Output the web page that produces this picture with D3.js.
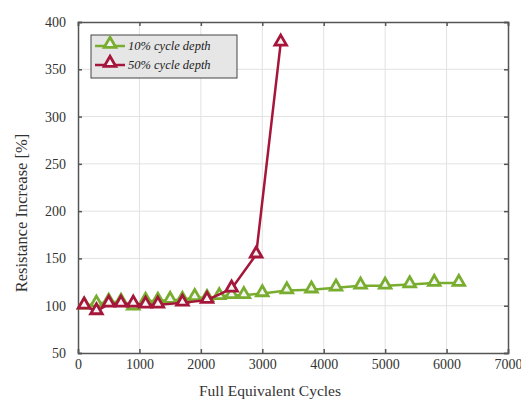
<!DOCTYPE html>
<html>
<head>
<meta charset="utf-8">
<script src="https://cdn.jsdelivr.net/npm/d3@7"></script>
<style>
  body { margin: 0; background: #fff; }
  svg text { font-family: 'Liberation Serif'; }
</style>
</head>
<body>
<script>
// data
var cycles10 = [100, 300, 500, 700, 900, 1100, 1300, 1500, 1700, 1900, 2100, 2300, 2500, 2700, 3000, 3400, 3800, 4200, 4600, 5000, 5400, 5800, 6200];
var resist10 = [100, 102, 104, 104, 99, 105, 105, 106, 106, 109, 108, 110, 111, 111, 113, 116, 117, 119, 121, 121, 122.5, 124, 124];
var cycles50 = [100, 300, 500, 700, 900, 1100, 1300, 1700, 2100, 2500, 2900, 3300];
var resist50 = [100, 94, 102, 102, 102, 101, 101, 103, 106, 118, 154, 378];
var xTicks = [0, 1000, 2000, 3000, 4000, 5000, 6000, 7000];
var yTicks = [50, 100, 150, 200, 250, 300, 350, 400];
var seriesNames = ["10% cycle depth", "50% cycle depth"];
var seriesColors = ["#78ad2f", "#a5163a"];

var W = 521, H = 400;
var m = {left: 78, right: 13, top: 22, bottom: 47};

var svg = d3.select("body").append("svg")
  .attr("width", W).attr("height", H)
  .attr("font-family", "Liberation Serif");

var x = d3.scaleLinear().domain([0, 7000]).range([m.left, W - m.right]);
var y = d3.scaleLinear().domain([50, 400]).range([H - m.bottom, m.top]);

// grid
svg.append("g").selectAll("line")
  .data(xTicks.slice(1, -1))
  .enter().append("line")
  .attr("x1", d => x(d)).attr("x2", d => x(d))
  .attr("y1", y(50)).attr("y2", y(400))
  .style("stroke", "#e2e2e2").style("stroke-width", 1);
svg.append("g").selectAll("line")
  .data(yTicks.slice(1, -1))
  .enter().append("line")
  .attr("y1", d => y(d)).attr("y2", d => y(d))
  .attr("x1", x(0)).attr("x2", x(7000))
  .style("stroke", "#e2e2e2").style("stroke-width", 1);

// axes (ticks pointing inward)
var xAxis = svg.append("g").attr("transform", "translate(0," + y(50) + ")")
  .call(d3.axisBottom(x).tickValues(xTicks).tickSize(-4).tickPadding(6).tickFormat(d3.format("d")));
var xTop = svg.append("g").attr("transform", "translate(0," + y(400) + ")")
  .call(d3.axisTop(x).tickValues(xTicks).tickSize(-4).tickFormat(""));
var yAxis = svg.append("g").attr("transform", "translate(" + x(0) + ",0)")
  .call(d3.axisLeft(y).tickValues(yTicks).tickSize(-4).tickPadding(12));
var yRight = svg.append("g").attr("transform", "translate(" + x(7000) + ",0)")
  .call(d3.axisRight(y).tickValues(yTicks).tickSize(-4).tickFormat(""));

[xAxis, xTop, yAxis, yRight].forEach(function(g) {
  g.attr("font-family", "Liberation Serif").attr("font-size", 14);
  g.select(".domain").style("stroke", "#555").style("stroke-width", 1.5);
  g.selectAll(".tick line").style("stroke", "#555").style("stroke-width", 1.5);
  g.selectAll("text").attr("font-family", "Liberation Serif").attr("fill", "#333");
});

// axis titles
svg.append("text")
  .attr("x", 270).attr("y", 396)
  .attr("text-anchor", "middle")
  .attr("font-family", "Liberation Serif")
  .attr("font-size", 15.5).attr("fill", "#333")
  .text("Full Equivalent Cycles");
svg.append("text")
  .attr("transform", "translate(27,213) rotate(-90)")
  .attr("text-anchor", "middle")
  .attr("font-family", "Liberation Serif")
  .attr("font-size", 16.5).attr("fill", "#333")
  .text("Resistance Increase [%]");

var tri = d3.symbol().type(d3.symbolTriangle).size(58);

function drawSeries(xs, ys, color) {
  var pts = xs.map((d, i) => [d, ys[i]]);
  var line = d3.line().x(d => x(d[0])).y(d => y(d[1]));
  svg.append("path")
    .datum(pts)
    .attr("d", line)
    .attr("fill", "none")
    .style("stroke", color)
    .style("stroke-width", 2.5);
  svg.append("g").selectAll("path")
    .data(pts)
    .enter().append("path")
    .attr("d", tri)
    .attr("transform", d => "translate(" + x(d[0]) + "," + (y(d[1]) - 1) + ")")
    .attr("fill", "#f4f4f4")
    .style("stroke", color)
    .style("stroke-width", 2.8);
}

drawSeries(cycles10, resist10, seriesColors[0]);
drawSeries(cycles50, resist50, seriesColors[1]);

// legend
var lg = svg.append("g").attr("transform", "translate(91,35)");
lg.append("rect")
  .attr("width", 146).attr("height", 43)
  .attr("fill", "#e6e6e6")
  .style("stroke", "#444").style("stroke-width", 1);
seriesNames.forEach(function(name, i) {
  var yy = 11 + i * 19;
  lg.append("line")
    .attr("x1", 4).attr("x2", 34).attr("y1", yy).attr("y2", yy)
    .style("stroke", seriesColors[i]).style("stroke-width", 2.5);
  lg.append("path")
    .attr("d", tri)
    .attr("transform", "translate(19," + (yy - 2) + ")")
    .attr("fill", "#f4f4f4")
    .style("stroke", seriesColors[i]).style("stroke-width", 2.8);
  lg.append("text")
    .attr("x", 37).attr("y", yy + 4)
    .attr("font-family", "Liberation Serif")
    .attr("font-size", 12.5)
    .attr("font-style", "italic")
    .attr("fill", "#222")
    .text(name);
});
</script>
</body>
</html>
